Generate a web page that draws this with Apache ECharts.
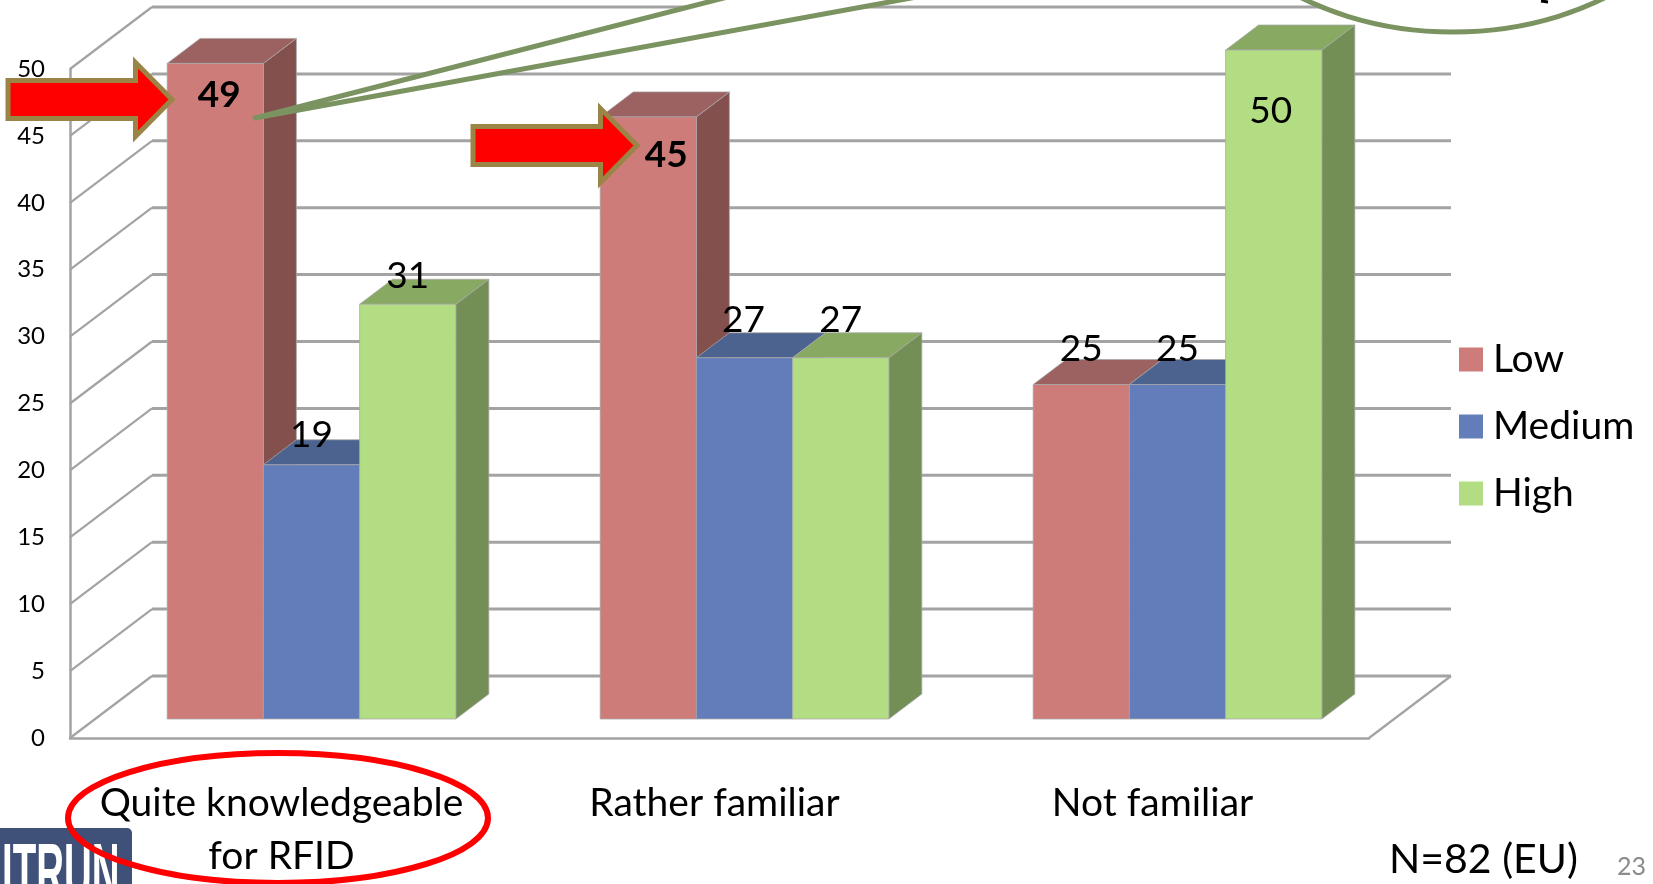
<!DOCTYPE html>
<html>
<head>
<meta charset="utf-8">
<style>
  html, body { margin: 0; padding: 0; background: #ffffff; }
  #chart { width: 1653px; height: 884px; }
</style>
<script src="https://cdn.jsdelivr.net/npm/echarts@6/dist/echarts.min.js"></script>
</head>
<body>
<div id="chart"></div>
<script>
// Survey results: RFID familiarity by Low / Medium / High rating
const categories = ['Quite knowledgeable\nfor RFID', 'Rather familiar', 'Not familiar'];
const lowValues = [49, 45, 25];
const mediumValues = [19, 27, 25];
const highValues = [31, 27, 50];
const yTicks = [0, 5, 10, 15, 20, 25, 30, 35, 40, 45, 50];

// Pseudo-3D projection, in pixels
const WALL_DX = 82, WALL_DY = -62;     // front of the floor to the back wall
const BAR_DX = 25, BAR_DY = -19;       // front of the floor to the front of the bars
const DEPTH_DX = 33, DEPTH_DY = -25;   // depth of one bar
const BAR_SHARE = 1 / 4.5;             // bar width as a share of a category band
const GRID_COLOR = '#a3a3a3';
const FONT = 'Lato, "Open Sans", sans-serif';

const barColors = {
  Low:    { front: '#ce7c7a', top: '#9c6161', side: '#84504e' },
  Medium: { front: '#637dba', top: '#4d638f', side: '#4d638f' },
  High:   { front: '#b2dd82', top: '#88a962', side: '#738f55' }
};

// Placement of each value label relative to the top centre of its bar; bold ones are highlighted
const labelPlacement = {
  Low:    [{ dx: 4, dy: 32, bold: true }, { dx: 18, dy: 38, bold: true }, { dx: 0, dy: -35 }],
  Medium: [{ dx: 0, dy: -30 }, { dx: -1, dy: -38 }, { dx: 0, dy: -35 }],
  High:   [{ dx: 0, dy: -28 }, { dx: 0, dy: -38 }, { dx: -3, dy: 61 }]
};

// Shift of the first two axis captions, which sit a little left of their band centre
const categoryLabelPadding = [[0, 10, 0, 0], [0, 10, 0, 0], [0, 0, 0, 0]];

function wallRenderer(params, api) {
  const p = api.coord([0, api.value(0)]);
  const y = p[1];
  const x0 = params.coordSys.x;
  const x1 = x0 + params.coordSys.width;
  const children = [
    { type: 'line', shape: { x1: x0, y1: y, x2: x0 + WALL_DX, y2: y + WALL_DY },
      style: { stroke: GRID_COLOR, lineWidth: 2.2 } },
    { type: 'line', shape: { x1: x0 + WALL_DX, y1: y + WALL_DY, x2: x1 + WALL_DX, y2: y + WALL_DY },
      style: { stroke: GRID_COLOR, lineWidth: 3 } }
  ];
  if (api.value(0) === 0) {
    // the floor closes on the right-hand side
    children.push({ type: 'line', shape: { x1: x1, y1: y, x2: x1 + WALL_DX, y2: y + WALL_DY },
      style: { stroke: GRID_COLOR, lineWidth: 2.2 } });
  }
  return { type: 'group', children };
}

function barRenderer(name, seriesIndex) {
  const colors = barColors[name];
  const place = labelPlacement[name];
  return function (params, api) {
    const cat = api.value(0);
    const band = api.size([1, 0])[0];
    const w = band * BAR_SHARE;
    const top = api.coord([cat, api.value(1)]);
    const base = api.coord([cat, 0]);
    const x0 = top[0] - 1.5 * w + seriesIndex * w + BAR_DX;
    const x1 = x0 + w;
    const yt = top[1] + BAR_DY;
    const yb = base[1] + BAR_DY;
    const edge = 'rgba(168,168,168,0.75)';
    const cx = (x0 + x1) / 2;
    const lab = place[params.dataIndex];
    return {
      type: 'group',
      children: [
        { type: 'polygon', shape: { points: [[x1, yt], [x1 + DEPTH_DX, yt + DEPTH_DY], [x1 + DEPTH_DX, yb + DEPTH_DY], [x1, yb]] },
          style: { fill: colors.side, stroke: edge, lineWidth: 1 } },
        { type: 'polygon', shape: { points: [[x0, yt], [x0 + DEPTH_DX, yt + DEPTH_DY], [x1 + DEPTH_DX, yt + DEPTH_DY], [x1, yt]] },
          style: { fill: colors.top, stroke: edge, lineWidth: 1 } },
        { type: 'rect', shape: { x: x0, y: yt, width: w, height: yb - yt },
          style: { fill: colors.front, stroke: edge, lineWidth: 1 } },
        { type: 'text', z2: 20, x: cx + lab.dx, y: yt + lab.dy,
          style: { text: String(api.value(1)), fill: '#000', align: 'center', verticalAlign: 'middle',
                   font: (lab.bold ? 'bold ' : '') + '37px ' + FONT } }
      ]
    };
  };
}

function barSeries(name, index, values) {
  return {
    name, type: 'custom', z: 3,
    renderItem: barRenderer(name, index),
    itemStyle: { color: barColors[name].front },
    encode: { x: 0, y: 1 },
    data: values.map((v, i) => [i, v])
  };
}

// Slide annotations: arrows, call-out, highlight ring, logo, footnotes
function arrowPoints(ox, oy) {
  return [[8, 80.5], [135.5, 80.5], [135.5, 62.5], [172, 99.5], [135.5, 136.5], [135.5, 118.5], [8, 118.5]]
    .map(p => [p[0] + ox, p[1] + oy]);
}
const arrowStyle = { fill: '#ff0000', stroke: '#9a8546', lineWidth: 5, lineJoin: 'miter', miterLimit: 10 };
const calloutStyle = { fill: '#ffffff', stroke: '#7a9360', lineWidth: 5, lineJoin: 'round' };

const annotations = [
  { type: 'polygon', z: 30, shape: { points: [[255, 118], [755, -10], [955, -10]] }, style: calloutStyle },
  { type: 'ellipse', z: 30, shape: { cx: 1453, cy: -168, rx: 271, ry: 200 }, style: calloutStyle },
  { type: 'line', z: 31, shape: { x1: 1541, y1: 1, x2: 1548, y2: 2 }, style: { stroke: '#000', lineWidth: 3 } },
  { type: 'polygon', z: 32, shape: { points: arrowPoints(0, 0) }, style: arrowStyle },
  { type: 'polygon', z: 32, shape: { points: arrowPoints(465, 46) }, style: arrowStyle },
  { type: 'rect', z: 30, shape: { x: -20, y: 828, width: 152, height: 80, r: 5 }, style: { fill: '#3f5178' } },
  { type: 'text', z: 31, x: 2, y: 836, scaleX: 0.62, scaleY: 1.3,
    style: { text: 'ITRUN', fill: '#ffffff', font: 'bold 62px "Liberation Sans", sans-serif' } },
  { type: 'ellipse', z: 33, shape: { cx: 278, cy: 818, rx: 210, ry: 65 }, style: { fill: null, stroke: '#ff0000', lineWidth: 6 } },
  { type: 'text', z: 31, x: 1389, y: 860,
    style: { text: 'N=82 (EU)', fill: '#000', font: '41px ' + FONT, verticalAlign: 'middle' } },
  { type: 'text', z: 31, x: 1617, y: 867,
    style: { text: '23', fill: '#8b8b8b', font: '25px ' + FONT, verticalAlign: 'middle' } }
];

const chart = echarts.init(document.getElementById('chart'), null, { renderer: 'canvas' });
chart.setOption({
  animation: false,
  backgroundColor: '#ffffff',
  grid: { left: 70, top: 69, width: 1299, height: 669, containLabel: false },
  legend: {
    data: ['Low', 'Medium', 'High'],
    orient: 'vertical',
    left: 1459, top: 340,
    padding: 0,
    icon: 'rect',
    itemWidth: 24, itemHeight: 24, itemGap: 28,
    selectedMode: false,
    textStyle: { fontFamily: FONT, fontSize: 39, color: '#000', lineHeight: 24, padding: [0, 0, 0, 5] }
  },
  xAxis: {
    type: 'category',
    data: categories.map((c, i) => ({ value: c, textStyle: { padding: categoryLabelPadding[i] } })),
    axisTick: { show: false },
    axisLine: { show: true, lineStyle: { color: GRID_COLOR, width: 2.5 } },
    axisLabel: { color: '#000', fontFamily: FONT, fontSize: 39, lineHeight: 53, margin: 39, interval: 0 }
  },
  yAxis: {
    type: 'value',
    min: 0, max: 50, interval: 5,
    splitLine: { show: false },
    axisTick: { show: false },
    axisLine: { show: true, lineStyle: { color: GRID_COLOR, width: 2.5 } },
    axisLabel: { color: '#000', fontFamily: FONT, fontSize: 24, margin: 25, padding: [10, 0, 0, 0],
                 customValues: yTicks }
  },
  series: [
    { name: 'wall', type: 'custom', z: 1, renderItem: wallRenderer, encode: { y: 0 }, data: yTicks.map(v => [v]) },
    barSeries('Low', 0, lowValues),
    barSeries('Medium', 1, mediumValues),
    barSeries('High', 2, highValues)
  ],
  graphic: { elements: annotations }
});
</script>
</body>
</html>
